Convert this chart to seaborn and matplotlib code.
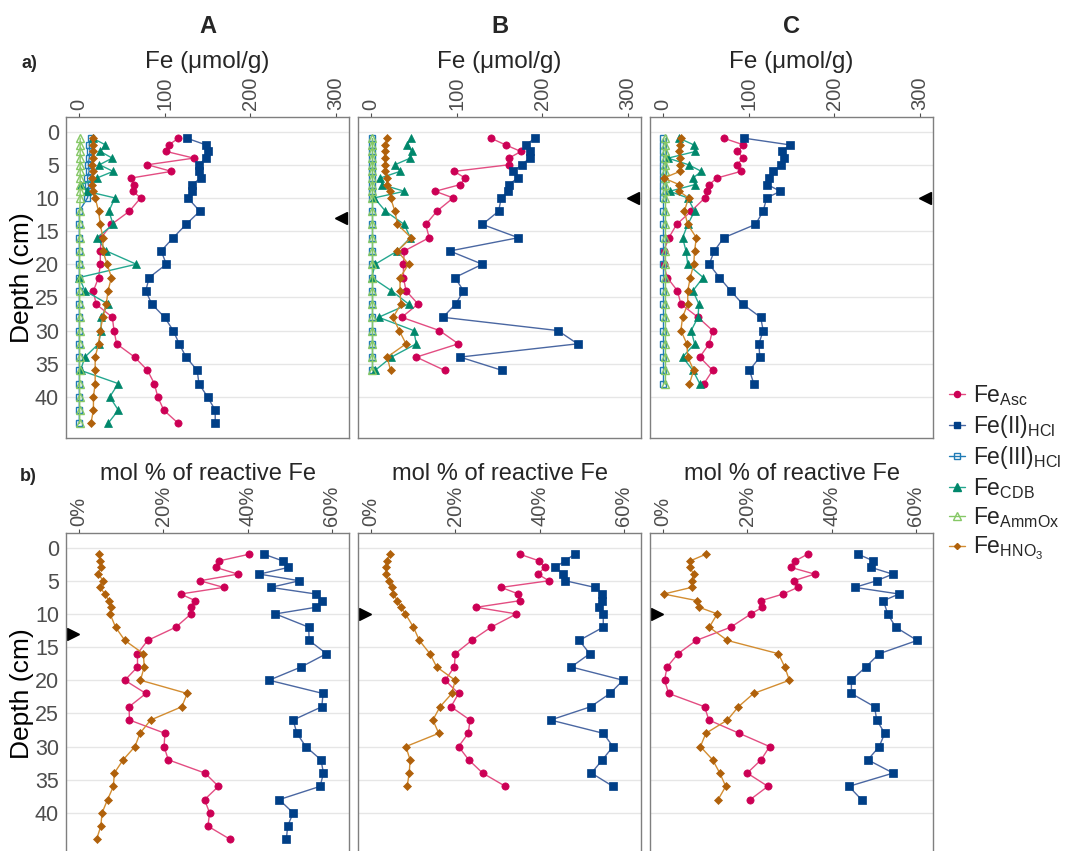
import numpy as np
import pandas as pd
import seaborn as sns
import matplotlib.pyplot as plt
from matplotlib.lines import Line2D

sns.set_theme(style='white')
plt.rcParams['font.family'] = ['Liberation Sans', 'DejaVu Sans']
plt.rcParams['mathtext.fontset'] = 'custom'
plt.rcParams['mathtext.rm'] = 'Liberation Sans'
plt.rcParams['mathtext.it'] = 'Liberation Sans:italic'
plt.rcParams['mathtext.bf'] = 'Liberation Sans:bold'

# depths (cm)
depth_A = [1, 2, 3, 4, 5, 6, 7, 8, 9, 10, 12, 14, 16, 18, 20, 22, 24, 26, 28, 30, 32, 34, 36, 38, 40, 42, 44]
depth_B = [1, 2, 3, 4, 5, 6, 7, 8, 9, 10, 12, 14, 16, 18, 20, 22, 24, 26, 28, 30, 32, 34, 36]
depth_C = [1, 2, 3, 4, 5, 6, 7, 8, 9, 10, 12, 14, 16, 18, 20, 22, 24, 26, 28, 30, 32, 34, 36, 38]

# a) Fe concentrations (umol/g)
asc_A = [116, 105, 102, 134, 80, 108, 61, 64, 63, 72, 59, 38, 26, 25, 25, 23, 17, 20, 39, 41, 44, 65, 80, 88, 92, 99, 116]
fe2_A = [126, 148, 150, 148, 140, 140, 142, 132, 132, 127, 141, 125, 110, 96, 102, 82, 78, 85, 100, 110, 117, 125, 138, 140, 150, 159, 159]
fe3_A = [14, 12, 13, 12, 11, 12, 10, 11, 12, 10, 0.5, 0.5, 0.5, 0.5, 0.5, 0.5, 0.5, 0.5, 0.5, 0.5, 0.5, 0.5, 0.5, 0.5, 0.5, 0.5, 0.5]
cdb_A = [16, 31, 25, 39, 24, 40, 21, 3, 9, 42, 35, 40, 21, 32, 67, 0.4, 7, 34, 26, 26, 23, 7, 2, 46, 36, 46, 34]
amm_A = [1.5, 1.5, 1.5, 1.5, 1.5, 1.5, 1.5, 1.5, 1.5, 1.5, 1, 1, 1, 1, 1, 1, 1, 1, 1, 1, 1, 1, 1, 1, 1, 1, 1]
hno3_A = [16, 16, 16, 16, 15, 16, 15, 15, 16, 19, 23, 25, 28, 28, 33, 38, 34, 32, 28, 25, 23, 19, 19, 19, 17, 17, 14]

asc_B = [140, 157, 175, 161, 161, 97, 110, 104, 75, 96, 77, 64, 68, 39, 38, 38, 41, 55, 36, 80, 102, 53, 86]
fe2_B = [191, 181, 185, 185, 176, 166, 171, 161, 160, 152, 149, 130, 172, 92, 130, 98, 108, 99, 84, 218, 241, 104, 153]
fe3_B = [1.2, 1.2, 1.2, 1.2, 1.2, 1.2, 1.2, 1.2, 1.2, 1.2, 1.2, 1.2, 1.2, 1.2, 1.2, 1.2, 1.2, 1.2, 1.2, 1.2, 1.2, 1.2, 1.2]
cdb_B = [47, 42, 48, 46, 28, 34, 11, 13, 39, 4, 17, 39, 46, 31, 5, 1, 24, 44, 9, 50, 53, 24, 5]
amm_B = [1, 1, 1, 1, 1, 1, 1, 1, 1, 1, 1, 1, 1, 1, 1, 1, 1, 1, 1, 1, 1, 1, 1]
hno3_B = [19, 17, 16, 16, 17, 17, 19, 19, 22, 23, 28, 31, 47, 31, 44, 34, 34, 35, 26, 33, 41, 19, 23]

asc_C = [71, 94, 87, 94, 86, 91, 63, 54, 52, 49, 33, 16, 7, 1, 1, 5, 17, 21, 41, 58, 54, 43, 58, 48]
fe2_C = [95, 148, 139, 141, 138, 129, 124, 122, 137, 121, 117, 108, 71, 60, 54, 66, 79, 93, 114, 117, 112, 113, 101, 106]
fe3_C = [0.5, 0.5, 0.5, 0.5, 0.5, 0.5, 0.5, 0.5, 0.5, 0.5, 0.5, 0.5, 0.5, 0.5, 0.5, 0.5, 0.5, 0.5, 0.5, 0.5, 0.5, 0.5, 0.5, 0.5]
cdb_C = [19, 36, 38, 6, 30, 45, 35, 37, 8, 29, 37, 29, 23, 27, 29, 47, 35, 42, 41, 33, 37, 23, 35, 43]
amm_C = [2, 2, 2, 2, 2, 2, 2, 2, 2, 2, 2, 2, 2, 2, 2, 2, 2, 2, 2, 2, 2, 2, 2, 2]
hno3_C = [21, 20, 19, 20, 20, 20, 1, 19, 19, 30, 25, 29, 39, 37, 36, 32, 29, 29, 23, 21, 28, 29, 36, 31]

# b) mol % of reactive Fe
pasc_A = [40.4, 33.3, 32.5, 37.7, 28.7, 34.3, 24.1, 27.6, 26.6, 26.6, 23.0, 16.3, 13.9, 13.9, 10.9, 15.9, 11.9, 12.0, 20.4, 20.2, 21.2, 29.9, 33.1, 29.8, 31.0, 30.6, 35.9]
pfe2_A = [43.9, 48.3, 49.6, 42.8, 52.3, 45.5, 56.2, 57.6, 56.2, 46.6, 54.5, 54.6, 58.7, 52.7, 45.1, 57.9, 57.6, 50.8, 51.7, 53.8, 57.4, 58.0, 57.2, 47.5, 50.8, 49.5, 49.2]
phno3_A = [4.8, 5.1, 5.2, 4.6, 5.8, 5.0, 6.2, 7.1, 7.6, 7.4, 8.7, 10.9, 15.3, 15.5, 14.6, 25.7, 24.4, 17.0, 14.5, 13.3, 10.5, 8.4, 8.2, 6.8, 5.5, 5.2, 4.2]

pasc_B = [35.3, 39.9, 41.2, 39.6, 42.2, 30.9, 35.0, 35.4, 25.0, 34.5, 28.5, 23.9, 20.0, 19.8, 17.6, 20.8, 19.0, 23.5, 23.1, 20.8, 23.2, 26.5, 31.9]
pfe2_B = [48.3, 46.0, 43.7, 45.6, 46.1, 53.1, 54.9, 54.7, 54.1, 55.1, 55.1, 49.4, 51.9, 47.5, 59.8, 56.7, 52.1, 42.6, 55.1, 57.4, 54.9, 52.3, 57.4]
phno3_B = [4.5, 3.8, 3.6, 3.7, 4.2, 5.0, 5.3, 6.3, 7.1, 8.2, 10.1, 11.5, 14.0, 15.6, 20.0, 19.2, 16.4, 14.7, 16.1, 8.3, 9.3, 9.1, 8.6]

pasc_C = [34.3, 31.4, 30.4, 36.0, 31.0, 32.0, 28.5, 23.3, 23.6, 20.9, 16.1, 7.9, 3.6, 1.0, 0.4, 1.4, 9.9, 10.9, 18.1, 25.3, 23.3, 20.0, 24.9, 20.7]
pfe2_C = [46.3, 49.9, 49.4, 54.5, 50.7, 45.5, 56.0, 52.3, np.nan, 53.3, 55.2, 60.3, 51.3, 48.1, 44.7, 44.7, 50.2, 50.7, 52.6, 51.3, 48.6, 54.6, 44.1, 47.1]
phno3_C = [10.2, 6.5, 6.4, 7.3, 6.8, 6.8, 0.2, 8.1, 8.6, 12.9, 11.0, 15.3, 27.4, 28.9, 30.0, 21.5, 17.9, 15.3, 10.2, 8.9, 11.8, 13.5, 14.9, 13.1]

sites = ['A', 'B', 'C']
depths = {'A': depth_A, 'B': depth_B, 'C': depth_C}
conc = {
    'A': {'Asc': asc_A, 'Fe2': fe2_A, 'Fe3': fe3_A, 'CDB': cdb_A, 'AmmOx': amm_A, 'HNO3': hno3_A},
    'B': {'Asc': asc_B, 'Fe2': fe2_B, 'Fe3': fe3_B, 'CDB': cdb_B, 'AmmOx': amm_B, 'HNO3': hno3_B},
    'C': {'Asc': asc_C, 'Fe2': fe2_C, 'Fe3': fe3_C, 'CDB': cdb_C, 'AmmOx': amm_C, 'HNO3': hno3_C},
}
pct = {
    'A': {'Asc': pasc_A, 'Fe2': pfe2_A, 'HNO3': phno3_A},
    'B': {'Asc': pasc_B, 'Fe2': pfe2_B, 'HNO3': phno3_B},
    'C': {'Asc': pasc_C, 'Fe2': pfe2_C, 'HNO3': phno3_C},
}
marker_depth = {'A': 13, 'B': 10, 'C': 10}

rows = []
for s in sites:
    for kind, src in (('conc', conc), ('pct', pct)):
        for ser, vals in src[s].items():
            for d, v in zip(depths[s], vals):
                rows.append((s, kind, ser, d, v))
df = pd.DataFrame(rows, columns=['site', 'kind', 'series', 'depth', 'value'])

styles = {
    'Asc':   dict(marker='o', mc='#CC0055', lc='#E34D82', ms=5.2, fill=True),
    'Fe2':   dict(marker='s', mc='#003F87', lc='#4A67A2', ms=5.4, fill=True),
    'Fe3':   dict(marker='s', mc='#1F7BB6', lc='#1F7BB6', ms=4.8, fill=False),
    'CDB':   dict(marker='^', mc='#00876B', lc='#24A78F', ms=6.2, fill=True),
    'AmmOx': dict(marker='^', mc='#86C866', lc='#86C866', ms=6.0, fill=False),
    'HNO3':  dict(marker='D', mc='#B0610B', lc='#D38D31', ms=3.6, fill=True),
}
labels = {
    'Asc': r'Fe$_{\mathrm{Asc}}$',
    'Fe2': r'Fe(II)$_{\mathrm{HCl}}$',
    'Fe3': r'Fe(III)$_{\mathrm{HCl}}$',
    'CDB': r'Fe$_{\mathrm{CDB}}$',
    'AmmOx': r'Fe$_{\mathrm{AmmOx}}$',
    'HNO3': r'Fe$_{\mathrm{HNO_3}}$',
}

W, H = 1069, 851
fig = plt.figure(figsize=(W / 100, H / 100), dpi=100)
lefts = [66, 358, 650]
aw, ah = 283, 321
tick_grey = '#4D4D4D'


def draw(ax, sub, order):
    for ser in order:
        st = styles[ser]
        d = sub[sub.series == ser]
        sns.lineplot(data=d, x='value', y='depth', sort=False, estimator=None, ax=ax,
                     color=st['lc'], linewidth=1.0, marker=st['marker'],
                     markersize=st['ms'],
                     markerfacecolor=st['mc'] if st['fill'] else 'none',
                     markeredgecolor=st['mc'], markeredgewidth=1.0 if not st['fill'] else 0.5,
                     legend=False)


for i, s in enumerate(sites):
    for row, kind in enumerate(['conc', 'pct']):
        top = 117 if row == 0 else 533
        ax = fig.add_axes([lefts[i] / W, 1 - (top + ah) / H, aw / W, ah / H])
        sub = df[(df.site == s) & (df.kind == kind)]
        order = ['Asc', 'Fe2', 'Fe3', 'CDB', 'AmmOx', 'HNO3'] if kind == 'conc' else ['Asc', 'Fe2', 'HNO3']
        draw(ax, sub, order)
        ax.set_ylim(46.2, -2.2)
        if kind == 'conc':
            ax.set_xlim(-15, 315)
            ax.set_xticks([0, 100, 200, 300])
            ax.set_xticklabels(['0', '100', '200', '300'])
            ax.plot([306], [marker_depth[s]], marker='<', color='black', ms=9, clip_on=False)
        else:
            ax.set_xlim(-3.05, 64.05)
            ax.set_xticks([0, 20, 40, 60])
            ax.set_xticklabels(['0%', '20%', '40%', '60%'])
            ax.plot([-1.4], [marker_depth[s]], marker='>', color='black', ms=9, clip_on=False)
        ax.set_yticks([0, 5, 10, 15, 20, 25, 30, 35, 40])
        ax.xaxis.set_ticks_position('top')
        ax.tick_params(axis='x', labelrotation=90, labelsize=14.5, length=3, width=0.8,
                       colors=tick_grey, pad=2)
        ax.tick_params(axis='y', labelsize=15.5, length=3, width=0.8, colors=tick_grey, pad=2)
        if i == 0:
            ax.set_ylabel('Depth (cm)', fontsize=19, color='black', labelpad=1)
        else:
            ax.set_yticklabels([])
            ax.set_ylabel('')
        ax.set_xlabel('')
        ax.yaxis.grid(True, color='#E6E6E6', lw=1)
        ax.xaxis.grid(False)
        ax.set_axisbelow(True)
        for sp in ax.spines.values():
            sp.set_color('#7F7F7F')
            sp.set_linewidth(1.0)
        cx = (lefts[i] + aw / 2) / W
        if row == 0:
            fig.text(cx, 1 - 68 / H, 'Fe (\u03bcmol/g)', ha='center', va='baseline', fontsize=17.5)
            fig.text(cx, 1 - 33 / H, s, ha='center', va='baseline', fontsize=17, fontweight='bold')
        else:
            fig.text(cx, 1 - 480 / H, 'mol % of reactive Fe', ha='center', va='baseline', fontsize=17)

fig.text(22 / W, 1 - 68 / H, 'a)', ha='left', va='baseline', fontsize=13, fontweight='bold')
fig.text(20 / W, 1 - 481 / H, 'b)', ha='left', va='baseline', fontsize=13, fontweight='bold')

handles = []
for ser in ['Asc', 'Fe2', 'Fe3', 'CDB', 'AmmOx', 'HNO3']:
    st = styles[ser]
    handles.append(Line2D([0], [0], color=st['lc'], lw=1.0, marker=st['marker'],
                          ms=st['ms'] * 0.85,
                          mfc=st['mc'] if st['fill'] else 'none', mec=st['mc']))
fig.legend(handles, [labels[k] for k in ['Asc', 'Fe2', 'Fe3', 'CDB', 'AmmOx', 'HNO3']],
           loc='upper left', bbox_to_anchor=(940 / W, 1 - 374 / H), frameon=False,
           fontsize=16.5, handlelength=0.7, handletextpad=0.35, labelspacing=0.2,
           borderaxespad=0)

fig.savefig('out.png', dpi=100)
